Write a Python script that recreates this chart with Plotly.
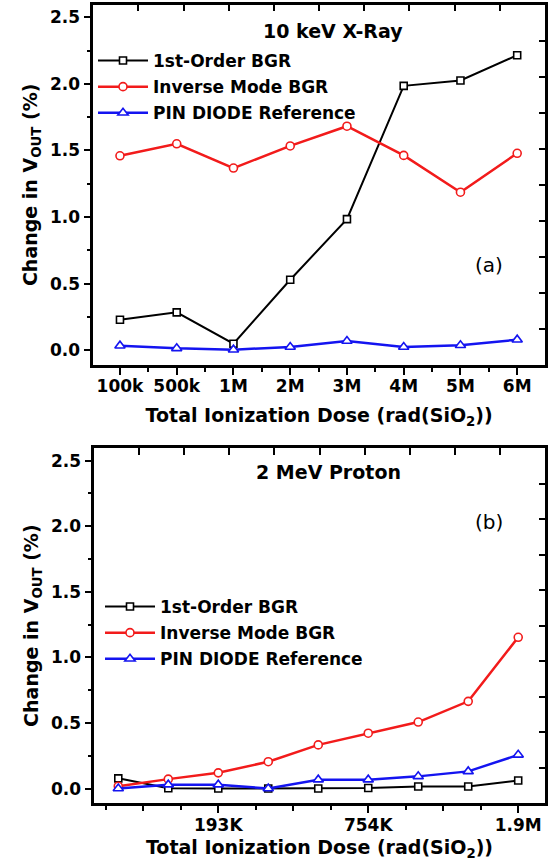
import plotly.graph_objects as go

# ---------------- data ----------------
xray_doses = ["100k", "500k", "1M", "2M", "3M", "4M", "5M", "6M"]
xray_first_order = [0.23, 0.285, 0.05, 0.53, 0.985, 1.985, 2.025, 2.215]
xray_inverse = [1.46, 1.55, 1.368, 1.534, 1.682, 1.463, 1.187, 1.479]
xray_pin = [0.035, 0.015, 0.005, 0.025, 0.07, 0.025, 0.038, 0.08]

proton_steps = [0, 1, 2, 3, 4, 5, 6, 7, 8]
proton_first_order = [0.078, 0.003, 0.0, 0.0, 0.0, 0.004, 0.016, 0.016, 0.062]
proton_inverse = [0.018, 0.072, 0.12, 0.205, 0.333, 0.422, 0.507, 0.665, 1.153]
proton_pin = [0.0, 0.03, 0.03, 0.0, 0.068, 0.068, 0.093, 0.131, 0.257]
proton_label_pos = [2, 5, 8]
proton_labels = ["193K", "754K", "1.9M"]
proton_unlabeled_major = [0.5, 3.5, 6.5]

series_names = ["1st-Order BGR", "Inverse Mode BGR", "PIN DIODE Reference"]
colors = ["#000000", "#f21b1b", "#1414f0"]
symbols = ["square", "circle", "triangle-up"]
msizes = [7, 8, 9]
lwidths = [2, 2.5, 2.5]

W, H = 554, 867
FONT = "DejaVu Sans"

fig = go.Figure()

xray_x = list(range(len(xray_doses)))
for i, ys in enumerate([xray_first_order, xray_inverse, xray_pin]):
    fig.add_trace(go.Scatter(
        x=xray_x, y=ys, mode="lines+markers", name=series_names[i],
        line=dict(color=colors[i], width=lwidths[i]),
        marker=dict(symbol=symbols[i], size=msizes[i], color="white",
                    line=dict(color=colors[i], width=1.6)),
        xaxis="x", yaxis="y", legend="legend", legendgroup="a%d" % i))

for i, ys in enumerate([proton_first_order, proton_inverse, proton_pin]):
    fig.add_trace(go.Scatter(
        x=proton_steps, y=ys, mode="lines+markers", name=series_names[i],
        line=dict(color=colors[i], width=lwidths[i]),
        marker=dict(symbol=symbols[i], size=msizes[i], color="white",
                    line=dict(color=colors[i], width=1.6)),
        xaxis="x2", yaxis="y2", legend="legend2", legendgroup="b%d" % i))

# empty helpers so the mirrored frame axes exist
for xa, ya in [("x3", "y"), ("x", "y3"), ("x4", "y2"), ("x2", "y4"), ("x5", "y2")]:
    fig.add_trace(go.Scatter(x=[], y=[], xaxis=xa, yaxis=ya, showlegend=False,
                             hoverinfo="skip"))

tickfont = dict(family=FONT, size=17, color="black", weight="bold")
titlefont = dict(family=FONT, size=19, color="black", weight="bold")

def ydom(top_px, bot_px):
    return [1 - bot_px / H, 1 - top_px / H]

common_axis = dict(showline=True, linewidth=2.5, linecolor="black", showgrid=False,
                   zeroline=False, ticks="outside", tickwidth=2, ticklen=7,
                   tickcolor="black", tickfont=tickfont)

yaxis_common = dict(common_axis, range=[-0.11, 2.594], tickmode="array",
                    tickvals=[0, 0.5, 1.0, 1.5, 2.0, 2.5], tickformat=".1f",
                    minor=dict(tickvals=[0.25, 0.75, 1.25, 1.75, 2.25], ticks="outside",
                               ticklen=4, tickwidth=2, tickcolor="black"),
                    title=dict(text="Change in V<sub>OUT</sub> (%)", font=titlefont, standoff=8))

frame_x = dict(range=[0, 10], tickmode="array", tickvals=list(range(1, 10)),
               ticks="inside", ticklen=7, tickwidth=2, tickcolor="black",
               showticklabels=False, showline=True, linewidth=2.5, linecolor="black",
               showgrid=False, zeroline=False, side="top")
frame_y = dict(range=[0, 10], tickmode="array", tickvals=list(range(1, 10)),
               ticks="inside", ticklen=6, tickwidth=2, tickcolor="black",
               showticklabels=False, showline=True, linewidth=2.5, linecolor="black",
               showgrid=False, zeroline=False, side="right")

xtitle_text = "Total Ionization Dose (rad(SiO<sub>2</sub>))"
proton_range = [-0.48, 8.53]

fig.update_layout(
    width=W, height=H, autosize=False,
    margin=dict(l=0, r=0, t=0, b=0),
    paper_bgcolor="white", plot_bgcolor="white",
    font=dict(family=FONT, color="black"),
    xaxis=dict(common_axis, domain=[93.3 / W, 545 / W], anchor="y",
               range=[-0.47, 7.49], tickmode="array", tickvals=xray_x, ticktext=xray_doses,
               minor=dict(tickvals=[v + 0.5 for v in xray_x[:-1]], ticks="outside",
                          ticklen=4, tickwidth=2, tickcolor="black"),
               ticklabelstandoff=-3,
               title=dict(text=xtitle_text, font=titlefont, standoff=14)),
    yaxis=dict(yaxis_common, domain=ydom(4.7, 365), anchor="x"),
    xaxis3=dict(frame_x, overlaying="x", anchor="y"),
    yaxis3=dict(frame_y, overlaying="y", anchor="x"),
    xaxis2=dict(common_axis, domain=[94.3 / W, 544.7 / W], anchor="y2",
                range=proton_range, tickmode="array", tickvals=proton_label_pos,
                ticktext=proton_labels,
                minor=dict(tickvals=[p - 0.75 for p in proton_unlabeled_major + proton_label_pos],
                           ticks="outside", ticklen=4, tickwidth=2, tickcolor="black"),
                ticklabelstandoff=-2,
                title=dict(text=xtitle_text, font=titlefont, standoff=7)),
    xaxis5=dict(overlaying="x2", anchor="y2", side="bottom", range=proton_range,
                tickmode="array", tickvals=proton_unlabeled_major, ticks="outside",
                ticklen=7, tickwidth=2, tickcolor="black", showticklabels=False,
                showline=False, showgrid=False, zeroline=False),
    yaxis2=dict(yaxis_common, domain=ydom(448.3, 803), anchor="x2"),
    xaxis4=dict(frame_x, overlaying="x2", anchor="y2"),
    yaxis4=dict(frame_y, overlaying="y2", anchor="x2"),
    legend=dict(x=93 / W, y=1 - 43 / H, xanchor="left", yanchor="top",
                font=dict(family=FONT, size=17, color="black", weight="bold"),
                itemwidth=50, tracegroupgap=1, bgcolor="rgba(0,0,0,0)", borderwidth=0),
    legend2=dict(x=100 / W, y=1 - 589 / H, xanchor="left", yanchor="top",
                 font=dict(family=FONT, size=17, color="black", weight="bold"),
                 itemwidth=50, tracegroupgap=1, bgcolor="rgba(0,0,0,0)", borderwidth=0),
    showlegend=True,
)

annots = [
    dict(text="10 keV X-Ray", x=333 / W, y=1 - 30.7 / H, font=titlefont),
    dict(text="(a)", x=488.5 / W, y=1 - 265 / H,
         font=dict(family=FONT, size=20, color="black")),
    dict(text="2 MeV Proton", x=328 / W, y=1 - 471.7 / H, font=titlefont),
    dict(text="(b)", x=488.5 / W, y=1 - 521.7 / H,
         font=dict(family=FONT, size=20, color="black")),
]
for a in annots:
    fig.add_annotation(xref="paper", yref="paper", showarrow=False,
                       xanchor="center", yanchor="middle", **a)

fig.write_html("out.html")
